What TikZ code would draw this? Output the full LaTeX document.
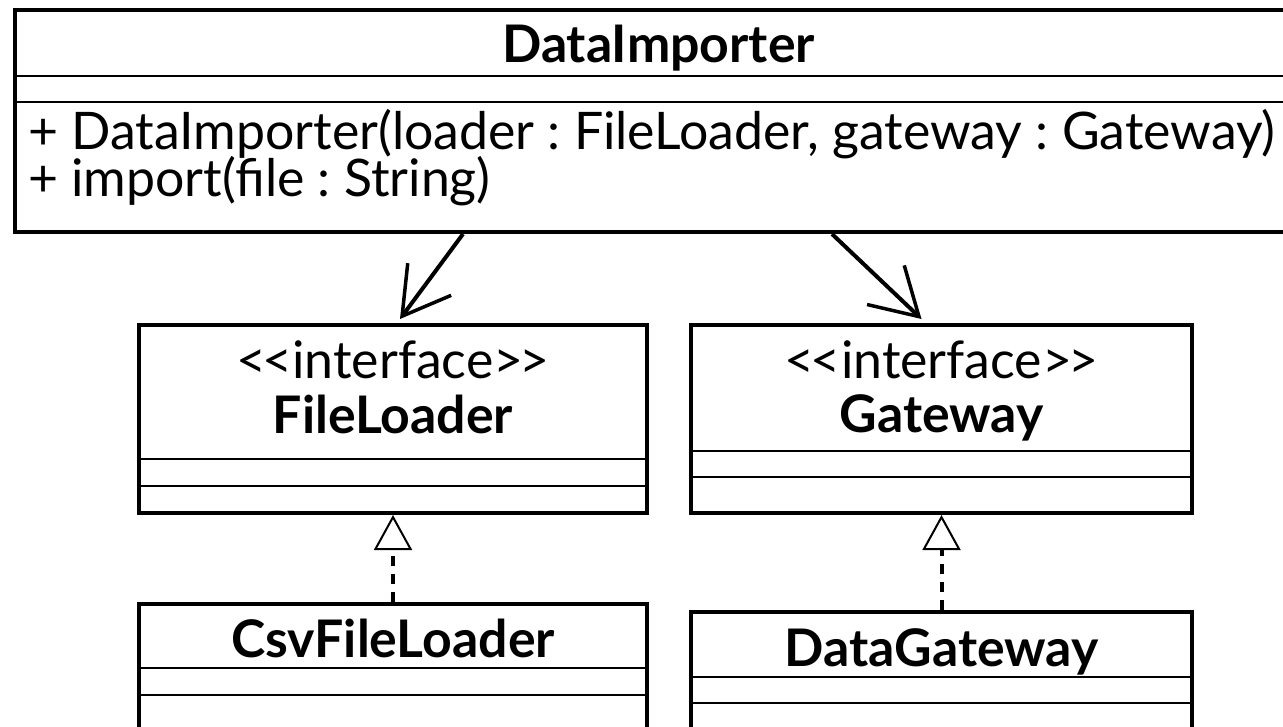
\documentclass[tikz,border=0pt]{standalone}
\usepackage{fontspec}
\setmainfont{Lato}[Ligatures=TeXOff]
\usetikzlibrary{arrows.meta, calc, positioning}

\newcommand{\umlfont}{\fontsize{51.8}{62}\selectfont\frenchspacing}
\newcommand{\stereo}[1]{<\kern-4pt<#1>\kern-4pt>}

\tikzset{
  umlbox/.style={draw, line width=4pt, anchor=north west, inner sep=0pt},
  umlsep/.style={line width=1.5pt},
  umltext/.style={font=\umlfont, inner sep=0pt, anchor=base},
  umlname/.style={umltext, font=\umlfont\bfseries},
  umlop/.style={umltext, anchor=base west},
  assoc/.style={line width=4pt,
    -{Straight Barb[length=46pt, width=54pt, line width=3.5pt]}},
  realize/.style={line width=4pt, dash pattern=on 10pt off 8pt,
    -{Triangle[open, length=35pt, width=38pt, line width=2pt]}}
}

\begin{document}
\begin{tikzpicture}[x=1pt, y=-1pt]
  \path[use as bounding box] (0,0) rectangle (1283,727);
  \clip (0,0) rectangle (1283,727);

  % DataImporter
  \node[umlbox, minimum width=1287pt, minimum height=222pt] (importer) at (13,8) {};
  \node[umlname] (importer-name) at ($(importer.north)+(0,55)$) {DataImporter};
  \draw[umlsep] ($(importer.north west)+(0,68)$) -- ($(importer.north east)+(0,68)$);
  \draw[umlsep] ($(importer.north west)+(0,94)$) -- ($(importer.north east)+(0,94)$);
  \node[umlop] (importer-op1) at ($(importer.north west)+(15,142)$)
    {+ DataImporter(loader : FileLoader, gateway : Gateway)};
  \node[umlop] (importer-op2) at ($(importer.north west)+(15,189)$)
    {+ import(file : String)};

  % FileLoader
  \node[umlbox, minimum width=508pt, minimum height=188pt] (loader) at (137,323) {};
  \node[umltext] (loader-stereo) at ($(loader.north)+(0,55)$) {\stereo{interface}};
  \node[umlname] (loader-name) at ($(loader.north)+(0,110)$) {FileLoader};
  \draw[umlsep] ($(loader.north west)+(0,136)$) -- ($(loader.north east)+(0,136)$);
  \draw[umlsep] ($(loader.north west)+(0,163)$) -- ($(loader.north east)+(0,163)$);

  % Gateway
  \node[umlbox, minimum width=501pt, minimum height=188pt] (gateway) at (689,323) {};
  \node[umltext] (gateway-stereo) at ($(gateway.north)+(0,55)$) {\stereo{interface}};
  \node[umlname] (gateway-name) at ($(gateway.north)+(0,109)$) {Gateway};
  \draw[umlsep] ($(gateway.north west)+(0,128)$) -- ($(gateway.north east)+(0,128)$);
  \draw[umlsep] ($(gateway.north west)+(0,154)$) -- ($(gateway.north east)+(0,154)$);

  % CsvFileLoader
  \node[umlbox, minimum width=508pt, minimum height=200pt] (csvloader) at (137,602) {};
  \node[umlname] (csvloader-name) at ($(csvloader.north)+(0,55)$) {CsvFileLoader};
  \draw[umlsep] ($(csvloader.north west)+(0,66)$) -- ($(csvloader.north east)+(0,66)$);
  \draw[umlsep] ($(csvloader.north west)+(0,93)$) -- ($(csvloader.north east)+(0,93)$);

  % DataGateway
  \node[umlbox, minimum width=501pt, minimum height=200pt] (datagateway) at (689,610) {};
  \node[umlname] (datagateway-name) at ($(datagateway.north)+(0,56)$) {DataGateway};
  \draw[umlsep] ($(datagateway.north west)+(0,67)$) -- ($(datagateway.north east)+(0,67)$);
  \draw[umlsep] ($(datagateway.north west)+(0,93)$) -- ($(datagateway.north east)+(0,93)$);

  % connectors
  \draw[assoc] ($(importer.south west)+(450,0)$) -- ($(loader.north)+(7,-4)$);
  \draw[assoc] ($(importer.south west)+(819,0)$) -- ($(gateway.north)+(-20,-4)$);
  \draw[realize] (csvloader.north) -- (loader.south);
  \draw[realize] (datagateway.north) -- (gateway.south);
\end{tikzpicture}
\end{document}
